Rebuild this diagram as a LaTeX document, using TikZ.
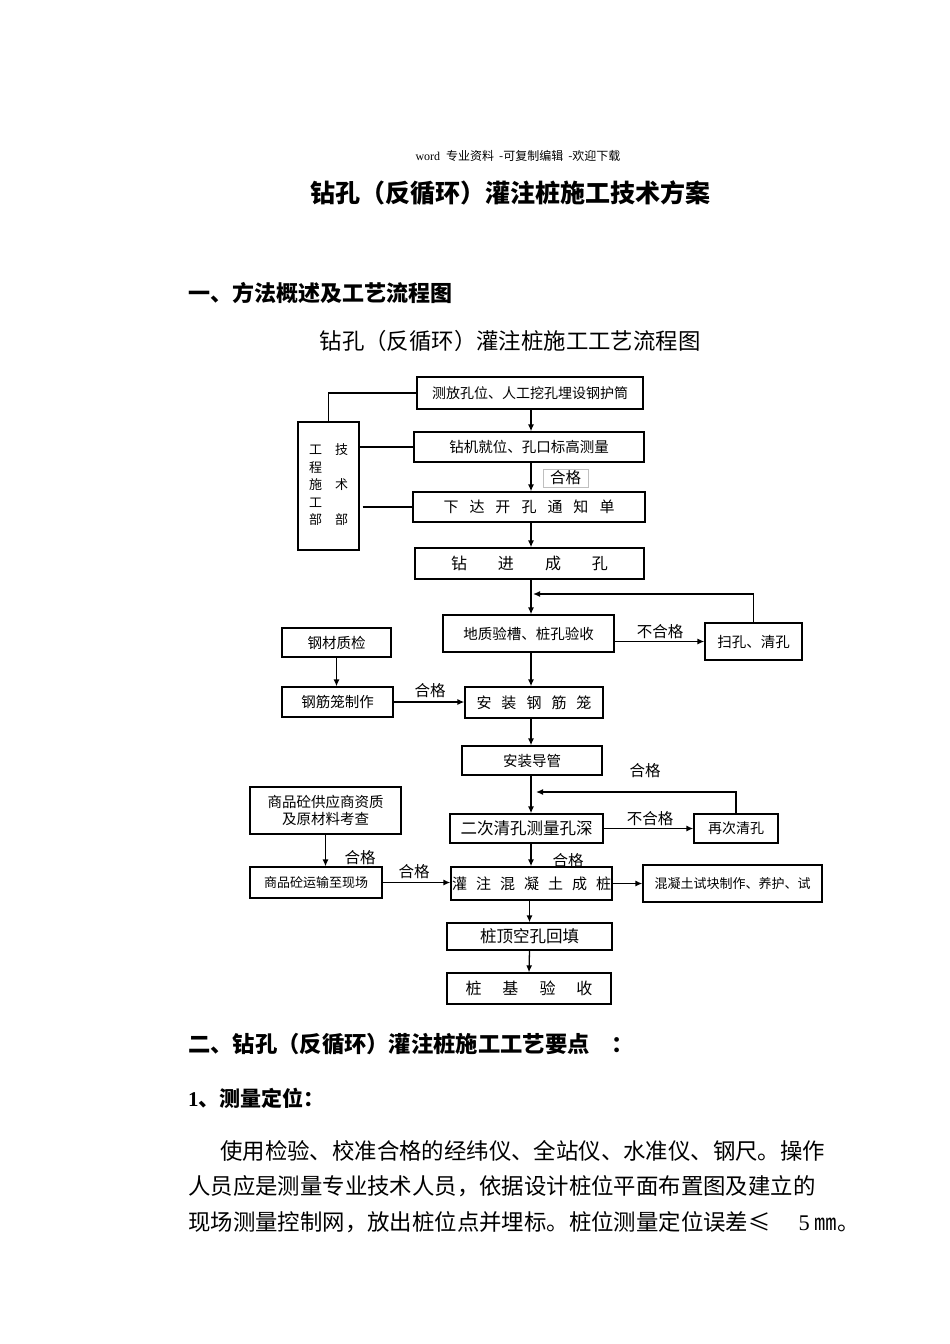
\documentclass[tikz,border=0pt]{standalone}
\usepackage{fontspec}
\setmainfont{Noto Sans CJK SC}
\newfontfamily\tnr{Liberation Serif}
\usetikzlibrary{arrows.meta}
\newcommand{\fs}[1]{\fontsize{#1}{#1}\selectfont}
\newcommand{\gap}[1]{\hspace{#1pt}}
\tikzstyle{box}=[draw,line width=1.3pt,inner sep=0pt]
\tikzstyle{arr}=[-{Latex[length=7pt,width=6pt]},line width=1.3pt]
\tikzstyle{link}=[line width=1.3pt]
\tikzstyle{tag}=[inner sep=0pt,font=\fs{15.5}]
\tikzstyle{txt}=[inner sep=0pt,anchor=west,font=\fs{22.4}]

\begin{document}
\begin{tikzpicture}[x=1pt,y=-1pt,font=\fs{14.5}]
  \fill[white] (0,0) rectangle (950,1344);
  \useasboundingbox (0,0) rectangle (950,1344);

  % page heading
  \node[inner sep=0pt,font=\fs{12}] (head) at (518,156)
    {{\tnr word}\gap{6}专业资料\gap{5}-可复制编辑\gap{5}-欢迎下载};
  \node[inner sep=0pt,font=\fs{25}\bfseries] (title) at (510,193) {钻孔（反循环）灌注桩施工技术方案};
  \node[txt,font=\fs{22}\bfseries] (sec1) at (188,293) {一、方法概述及工艺流程图};
  \node[inner sep=0pt,font=\fs{22.4}] (flowtitle) at (510,341) {钻孔（反循环）灌注桩施工工艺流程图};

  % main column
  \node[box,minimum width=226pt,minimum height=32pt,font=\fs{14}] (cefang) at (530,393) {测放孔位、人工挖孔埋设钢护筒};
  \node[box,minimum width=230pt,minimum height=30pt] (zuanji) at (529,447) {钻机就位、孔口标高测量};
  \node[draw=gray!50,line width=0.6pt,inner sep=0pt,minimum width=45pt,minimum height=18pt,font=\fs{15.5}] (ok1) at (565.5,478) {合格};
  \node[box,minimum width=232pt,minimum height=30pt,font=\fs{15}] (xiada) at (529,507)
    {下\gap{11}达\gap{11}开\gap{11}孔\gap{11}通\gap{11}知\gap{11}单};
  \node[box,minimum width=229pt,minimum height=31pt,font=\fs{16}] (zuanjin) at (529.5,563.5)
    {钻\gap{31}进\gap{31}成\gap{31}孔};
  \node[box,minimum width=61pt,minimum height=128pt,font=\fs{13}] (bumen) at (328.5,486)
    {\fontsize{13}{17.5}\selectfont\begin{tabular}{@{}c@{\gap{13}}c@{}}工&技\\程&\\施&术\\工&\\部&部\end{tabular}};
  \node[box,minimum width=171pt,minimum height=37pt] (dizhi) at (528.5,633.5) {地质验槽、桩孔验收};
  \node[box,minimum width=97pt,minimum height=37pt] (saokong) at (753.5,641.5) {扫孔、清孔};
  \node[box,minimum width=109pt,minimum height=29pt] (gangcai) at (336.5,642.5) {钢材质检};
  \node[box,minimum width=111pt,minimum height=30pt] (gangjin) at (337.5,702) {钢筋笼制作};
  \node[box,minimum width=138pt,minimum height=31pt,font=\fs{15}] (anzhuang) at (534,702.5)
    {安\gap{10}装\gap{10}钢\gap{10}筋\gap{10}笼};
  \node[box,minimum width=140pt,minimum height=29pt] (daoguan) at (532,760.5) {安装导管};
  \node[box,minimum width=153pt,minimum height=29pt,font=\fs{16.5}] (erci) at (526.5,828.5) {二次清孔测量孔深};
  \node[box,minimum width=84pt,minimum height=29pt,font=\fs{14}] (zaici) at (736,828.5) {再次清孔};
  \node[box,minimum width=151pt,minimum height=47pt,align=center] (gongying) at (325.5,810.5)
    {商品砼供应商资质\\[2pt]及原材料考查};
  \node[box,minimum width=132pt,minimum height=31pt,font=\fs{13}] (yunshu) at (316,882.5) {商品砼运输至现场};
  \node[box,minimum width=161pt,minimum height=33pt,font=\fs{15}] (guanzhu) at (531.5,883.5)
    {灌\gap{9}注\gap{9}混\gap{9}凝\gap{9}土\gap{9}成\gap{9}桩};
  \node[box,minimum width=179pt,minimum height=37pt,font=\fs{13}] (shikuai) at (732.5,883.5) {混凝土试块制作、养护、试};
  \node[box,minimum width=165pt,minimum height=27pt,font=\fs{16.5}] (zhuangding) at (529.5,936.5) {桩顶空孔回填};
  \node[box,minimum width=164pt,minimum height=31pt,font=\fs{16}] (yanshou) at (529,988.5)
    {桩\gap{21}基\gap{21}验\gap{21}收};

  % labels on connectors
  \node[tag] (ng1) at (660,632) {不合格};
  \node[tag] (ok2) at (430,691) {合格};
  \node[tag] (ok3) at (645,771) {合格};
  \node[tag] (ng2) at (650,819) {不合格};
  \node[tag] (ok4) at (360,858) {合格};
  \node[tag] (ok5) at (414,872) {合格};
  \node[tag] (ok6) at (568,861) {合格};

  % connectors
  \coordinate (axis) at (531,0);
  \coordinate (back1) at (533,594);
  \coordinate (back2) at (536,792);
  \draw[arr] (cefang.south -| axis) -- (zuanji.north -| axis);
  \draw[arr] (zuanji.south -| axis) -- (xiada.north -| axis);
  \draw[arr] (xiada.south -| axis) -- (zuanjin.north -| axis);
  \draw[arr] (zuanjin.south -| axis) -- (dizhi.north -| axis);
  \draw[arr] (dizhi.south -| axis) -- (anzhuang.north -| axis);
  \draw[arr] (anzhuang.south -| axis) -- (daoguan.north -| axis);
  \draw[arr] (daoguan.south -| axis) -- (erci.north -| axis);
  \draw[arr] (erci.south -| axis) -- (guanzhu.north -| axis);
  \draw[arr] (guanzhu.south -| zhuangding) -- (zhuangding.north);
  \draw[arr] (zhuangding.south) -- (yanshou.north);
  \draw[arr] (dizhi.east |- saokong.west) -- (saokong.west);
  \draw[arr] (saokong.north) |- (back1);
  \draw[arr] (erci.east) -- (zaici.west);
  \draw[arr] (zaici.north) |- (back2);
  \draw[arr] (gangcai.south) -- (gangcai.south |- gangjin.north);
  \draw[arr] (gangjin.east) -- (gangjin.east -| anzhuang.west);
  \draw[arr] (gongying.south) -- (gongying.south |- yunshu.north);
  \draw[arr] (yunshu.east) -- (yunshu.east -| guanzhu.west);
  \draw[arr] (guanzhu.east) -- (shikuai.west);
  \draw[link] (bumen.north) |- (cefang.west);
  \draw[link] (bumen.east |- zuanji.west) -- (zuanji.west);
  \draw[link] ([xshift=3pt]bumen.east |- xiada.west) -- (xiada.west);

  % text below the chart
  \node[txt,font=\fs{22.3}\bfseries] (sec2) at (188,1044) {二、钻孔（反循环）灌注桩施工工艺要点\gap{22}：};
  \node[txt,font=\fs{21}\bfseries] (sub1) at (188,1098) {{\tnr 1}、测量定位：};
  \node[txt] (line1) at (220,1151) {使用检验、校准合格的经纬仪、全站仪、水准仪、钢尺。操作};
  \node[txt] (line2) at (188,1186) {人员应是测量专业技术人员，依据设计桩位平面布置图及建立的};
  \node[txt] (line3) at (188,1222) {现场测量控制网，放出桩位点并埋标。桩位测量定位误差≤\gap{28}{\tnr 5} ㎜。};
\end{tikzpicture}
\end{document}
